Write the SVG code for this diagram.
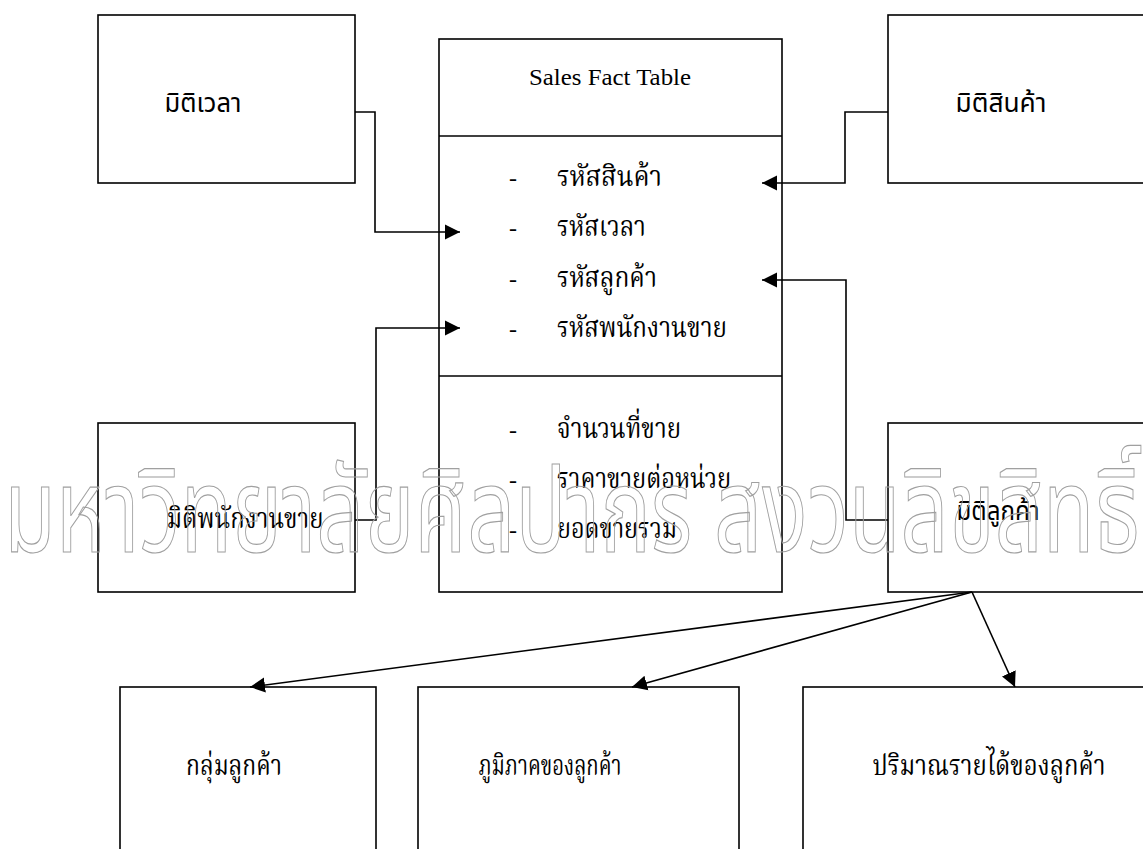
<svg xmlns="http://www.w3.org/2000/svg" width="1143" height="849" viewBox="0 0 1143 849">
  <style>
    .box { fill: #fff; stroke: #000; stroke-width: 1.6; }
    .div { stroke: #000; stroke-width: 1.6; }
    .conn { fill: none; stroke: #000; stroke-width: 1.6; }
    .en { font-family: "Liberation Serif", serif; font-size: 24px; fill: #000; }
    .th { font-family: "Liberation Serif", "Noto Serif Thai", "Noto Sans Thai", serif; font-size: 28px; fill: #000; }
    .lbl { font-family: "Noto Sans Thai", "Liberation Sans", sans-serif; font-size: 26px; fill: #000; }
    .dash { font-family: "Liberation Serif", serif; font-size: 24px; fill: #000; }
    .wm { font-family: "Noto Sans Thai", "Liberation Sans", sans-serif; font-size: 118px; fill: none; stroke: #a0a0a0; stroke-width: 1.2; }
  </style>
  <defs>
    <marker id="arrow" markerUnits="userSpaceOnUse" markerWidth="16" markerHeight="16" viewBox="0 0 16 16" refX="15" refY="8" orient="auto">
      <path d="M0,0.5 L15,8 L0,15.5 Z" fill="#000"/>
    </marker>
  </defs>

  <rect width="1143" height="849" fill="#fff"/>

  <!-- dimension: time -->
  <g id="dim-time">
    <rect class="box" x="98" y="15" width="257" height="168"/>
    <text class="lbl" x="203" y="112" text-anchor="middle" textLength="77" lengthAdjust="spacingAndGlyphs">มิติเวลา</text>
  </g>

  <!-- dimension: product -->
  <g id="dim-product">
    <rect class="box" x="888" y="15" width="300" height="168"/>
    <text class="lbl" x="1001" y="112" text-anchor="middle" textLength="91" lengthAdjust="spacingAndGlyphs">มิติสินค้า</text>
  </g>

  <!-- dimension: salesperson -->
  <g id="dim-salesperson">
    <rect class="box" x="98" y="423" width="257" height="169"/>
    <text class="th" x="245" y="528" text-anchor="middle" textLength="157" lengthAdjust="spacingAndGlyphs">มิติพนักงานขาย</text>
  </g>

  <!-- dimension: customer -->
  <g id="dim-customer">
    <rect class="box" x="888" y="423" width="300" height="169"/>
    <text class="lbl" x="998" y="520" text-anchor="middle" textLength="83" lengthAdjust="spacingAndGlyphs">มิติลูกค้า</text>
  </g>

  <!-- fact table -->
  <g id="fact-table">
    <rect class="box" x="439" y="39" width="343" height="553"/>
    <line class="div" x1="439" y1="136" x2="782" y2="136"/>
    <line class="div" x1="439" y1="376" x2="782" y2="376"/>
    <text class="en" x="610" y="85" text-anchor="middle" textLength="162" lengthAdjust="spacingAndGlyphs">Sales Fact Table</text>
    <g class="dash">
      <text x="509" y="186">-</text>
      <text x="509" y="236">-</text>
      <text x="509" y="287">-</text>
      <text x="509" y="337">-</text>
      <text x="509" y="438">-</text>
      <text x="509" y="488">-</text>
      <text x="509" y="538">-</text>
    </g>
    <text class="th" x="557" y="186" textLength="105" lengthAdjust="spacingAndGlyphs">รหัสสินค้า</text>
    <text class="th" x="557" y="236" textLength="89" lengthAdjust="spacingAndGlyphs">รหัสเวลา</text>
    <text class="th" x="557" y="287" textLength="100" lengthAdjust="spacingAndGlyphs">รหัสลูกค้า</text>
    <text class="th" x="557" y="337" textLength="170" lengthAdjust="spacingAndGlyphs">รหัสพนักงานขาย</text>
    <text class="th" x="557" y="438" textLength="124" lengthAdjust="spacingAndGlyphs">จำนวนที่ขาย</text>
    <text class="th" x="557" y="488" textLength="174" lengthAdjust="spacingAndGlyphs">ราคาขายต่อหน่วย</text>
    <text class="th" x="557" y="538" textLength="120" lengthAdjust="spacingAndGlyphs">ยอดขายรวม</text>
  </g>

  <!-- customer hierarchy levels -->
  <g id="cust-group">
    <rect class="box" x="120" y="687" width="256" height="200"/>
    <text class="th" x="234" y="775" text-anchor="middle" textLength="96" lengthAdjust="spacingAndGlyphs">กลุ่มลูกค้า</text>
  </g>
  <g id="cust-region">
    <rect class="box" x="418" y="687" width="321" height="200"/>
    <text class="th" x="550" y="775" text-anchor="middle" textLength="143" lengthAdjust="spacingAndGlyphs">ภูมิภาคของลูกค้า</text>
  </g>
  <g id="cust-income">
    <rect class="box" x="803" y="687" width="400" height="200"/>
    <text class="th" x="989" y="775" text-anchor="middle" textLength="233" lengthAdjust="spacingAndGlyphs">ปริมาณรายได้ของลูกค้า</text>
  </g>

  <!-- connectors -->
  <g id="connectors" class="conn">
    <path d="M355,112 H375 V232 H460" marker-end="url(#arrow)"/>
    <path d="M355,520 H376 V328 H460" marker-end="url(#arrow)"/>
    <path d="M888,112 H845 V183 H762" marker-end="url(#arrow)"/>
    <path d="M888,520 H846 V280 H762" marker-end="url(#arrow)"/>
    <path d="M972,592 L250,687" marker-end="url(#arrow)"/>
    <path d="M972,592 L632,687" marker-end="url(#arrow)"/>
    <path d="M972,592 L1015,687" marker-end="url(#arrow)"/>
  </g>

  <!-- watermark -->
  <text class="wm" x="4" y="552" textLength="1136" lengthAdjust="spacingAndGlyphs">มหาวิทยาลัยศิลปากร สงวนลิขสิทธิ์</text>
</svg>
